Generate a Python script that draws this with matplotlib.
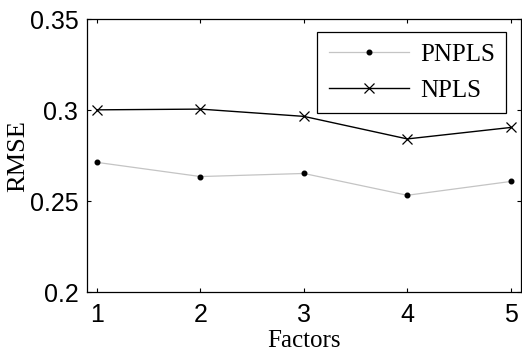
import matplotlib
matplotlib.use('Agg')
import matplotlib.pyplot as plt

factors = [1, 2, 3, 4, 5]
pnpls = [0.2713, 0.2635, 0.2652, 0.2532, 0.2608]
npls = [0.3002, 0.3006, 0.2966, 0.2842, 0.2905]

fig = plt.figure(figsize=(5.22, 3.53), dpi=100)
ax = fig.add_axes([86.7 / 522, 1 - 292 / 353, (521 - 86.7) / 522, (292 - 19.3) / 353])

ax.plot(factors, pnpls, color='#c4c4c4', lw=0.9, marker='o', ms=3.3,
        mfc='black', mec='black', label='PNPLS')
ax.plot(factors, npls, color='black', lw=1.0, marker='x', ms=7.5,
        mew=0.9, label='NPLS')

ax.set_xlim(0.9, 5.1)
ax.set_ylim(0.2, 0.35)
ax.set_xticks(factors)
ax.set_yticks([0.2, 0.25, 0.3, 0.35])
ax.set_yticklabels(['0.2', '0.25', '0.3', '0.35'])
ax.tick_params(direction='in', length=3, width=0.8, top=True, right=True,
               labelsize=18)
ax.tick_params(axis='y', pad=6)
ax.tick_params(axis='x', pad=8)
for lab in ax.get_xticklabels() + ax.get_yticklabels():
    lab.set_fontfamily('Liberation Sans')
for s in ax.spines.values():
    s.set_linewidth(0.9)

ax.set_xlabel('Factors', fontfamily='Liberation Serif', fontsize=18, labelpad=2)
ax.set_ylabel('RMSE', fontfamily='Liberation Serif', fontsize=19, labelpad=0)

leg = ax.legend(loc='upper right', bbox_to_anchor=(0.9655, 0.953),
                borderaxespad=0,
                prop={'family': 'Liberation Serif', 'size': 18},
                fancybox=False, framealpha=1, edgecolor='black',
                handlelength=3.2, handletextpad=0.45, borderpad=0.45,
                labelspacing=0.55)
leg.get_frame().set_linewidth(0.9)

fig.savefig('out.png', dpi=100)
